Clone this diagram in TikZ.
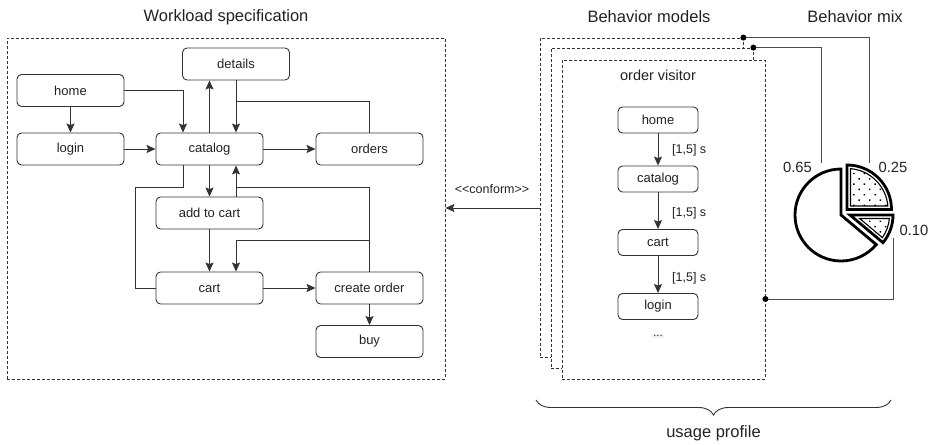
\documentclass[tikz,border=0pt]{standalone}
\usepackage{fontspec}
\setmainfont{Liberation Sans}
\usetikzlibrary{arrows.meta,calc,patterns.meta,decorations.pathreplacing}
\definecolor{ln}{HTML}{333333}
\definecolor{tx}{HTML}{222222}
\begin{document}
\begin{tikzpicture}[x=1pt,y=1pt,
  box/.style={draw=ln, line width=0.9pt, rounded corners=4.5pt, minimum width=107pt, minimum height=32pt, inner sep=0pt, font=\fontsize{13}{15}\selectfont, text=tx},
  sbox/.style={box, minimum width=80pt, minimum height=26pt},
  con/.style={draw=ln, line width=0.9pt},
  arr/.style={con, -{Stealth[length=9pt,width=8pt,inset=1.5pt]}},
  dbox/.style={draw=ln, line width=0.8pt, dash pattern=on 3pt off 2pt, fill=white, inner sep=0pt},
  ttl/.style={font=\fontsize{16.5}{19}\selectfont, text=tx, inner sep=0pt},
  lbl/.style={font=\fontsize{12.5}{14}\selectfont, text=tx, inner sep=0pt},
  plbl/.style={font=\fontsize{14.8}{16}\selectfont, text=tx, inner sep=0pt},
  dotc/.style={fill=black},
  slice/.style={line width=2.8pt, fill=white, line join=miter},
  islice/.style={line width=1.1pt, pattern={Dots[distance=7.5pt, angle=45, radius=1pt]}, line join=miter},
]
\useasboundingbox (0,0) rectangle (933,-444);

% ---------- Workload specification ----------
\node[ttl] (t1) at (226,-17) {Workload specification};
\node[dbox, minimum width=438pt, minimum height=341pt] (W) at (226,-208.5) {};

\node[box] (Lhome) at (70.5,-90.5) {home};
\node[box] (Llogin) at (70.5,-149) {login};
\node[box] (Lcat) at (209.5,-149) {catalog};
\node[box] (Ldet) at (236,-64) {details};
\node[box] (Lord) at (369.5,-149) {orders};
\node[box] (Ladd) at (209.5,-213) {add to cart};
\node[box] (Lcart) at (209.5,-288) {cart};
\node[box] (Lcre) at (369.5,-288) {create order};
\node[box] (Lbuy) at (369.5,-341.5) {buy};

\draw[arr, line width=1.4pt] (Lhome) -- (Llogin);
\draw[arr] (Lhome.east) -| ($(Lcat.north)+(-26.5,0)$);
\draw[arr] (Llogin) -- (Lcat);
\draw[arr] (Lcat.north) -- (Lcat.north |- Ldet.south);
\draw[arr] (Ldet.south) -- (Ldet.south |- Lcat.north);
\coordinate (j1) at (236,-101);
\draw[con] (Lord.north) |- (j1);
\draw[arr] (Lcat) -- (Lord);
\coordinate (j2) at (135,-187);
\draw[con] ($(Lcat.south)+(-26.5,0)$) |- (j2) |- (Lcart.west);
\draw[arr] (Lcat.south) -- (Ladd.north);
\draw[arr] ($(Ladd.north)+(26.5,0)$) -- ($(Lcat.south)+(26.5,0)$);
\coordinate (j3) at (236,-187);
\draw[con] (Lcre.north) |- (j3);
\draw[arr] (Ladd) -- (Lcart);
\coordinate (j4) at (369.5,-240);
\draw[arr] (j4) -| ($(Lcart.north)+(26.5,0)$);
\draw[arr] (Lcart) -- (Lcre);
\draw[arr, line width=1.4pt] (Lcre) -- (Lbuy);

% ---------- Behavior models ----------
\node[ttl] (t2) at (649,-17) {Behavior models};
\node[ttl] (t3) at (855,-17) {Behavior mix};

\node[dbox, minimum width=203pt, minimum height=319pt] (B1) at (641.5,-197.5) {};
\node[dbox, minimum width=202pt, minimum height=320pt] (B2) at (652,-208) {};
\node[dbox, minimum width=203pt, minimum height=319pt] (B3) at (663.5,-219.5) {};

\coordinate (cf) at (540,-208);
\draw[arr, line width=0.8pt] (cf) -- (cf -| W.east);
\node[lbl] (conf) at (492,-189) {<{}<conform>{}>};

\node[font=\fontsize{14.5}{16}\selectfont, text=tx, inner sep=0pt] (ov) at (658,-75) {order visitor};
\node[sbox] (Rhome) at (658,-120) {home};
\node[sbox] (Rcat) at (658,-179) {catalog};
\node[sbox] (Rcart) at (658,-242.5) {cart};
\node[sbox] (Rlogin) at (658,-306.5) {login};
\node[fill=black!6, inner sep=1.5pt, font=\fontsize{11}{12}\selectfont, text=tx] (Rdots) at (658,-336) {...};

\draw[arr] (Rhome) -- (Rcat);
\node[lbl, anchor=west] (e1) at (672,-150) {[1,5] s};
\draw[arr] (Rcat) -- (Rcart);
\node[lbl, anchor=west] (e2) at (672,-213) {[1,5] s};
\draw[arr] (Rcart) -- (Rlogin);
\node[lbl, anchor=west] (e3) at (672,-278) {[1,5] s};

% ---------- Behavior mix ----------
\coordinate (p65) at (821,-163);
\coordinate (p25) at (869,-163);
\coordinate (p10) at (893,-238);
\coordinate (d3) at (B3.east |- 0,-299);
\draw[con, draw=black!70] (B1.north east) -| (p25);
\draw[con, draw=black!70] (B2.north east) -| (p65);
\draw[con, draw=black!70] (d3) -| (p10);
\fill[dotc] (B1.north east) circle (3pt);
\fill[dotc] (B2.north east) circle (3pt);
\fill[dotc] (d3) circle (3pt);

\node[plbl] (l65) at (797.5,-167) {0.65};
\node[plbl] (l25) at (893,-167) {0.25};
\node[plbl] (l10) at (914,-230) {0.10};

% pie slices
\coordinate (c65) at (841,-215);
\coordinate (c25) at (847,-209.5);
\coordinate (c10) at (850,-215);
\draw[slice] (c65) -- ++(90:46) arc[start angle=90, end angle=320, radius=46] -- cycle;
\draw[slice] (c25) -- ++(0:44.5) arc[start angle=0, end angle=90, radius=44.5] -- cycle;
\draw[islice] ($(c25)+(3.5,3.5)$) -- ($(c25)+(4.9:41)$) arc[start angle=4.9, end angle=85.1, radius=41] -- cycle;
\draw[slice] (c10) -- ++(0:43) arc[start angle=0, end angle=-40, radius=43] -- cycle;
\draw[islice] ($(c10)+(-20:10.2)$) -- ($(c10)+(-5.08:39.5)$) arc[start angle=-5.08, end angle=-34.92, radius=39.5] -- cycle;

% ---------- usage profile ----------
\draw[con, line width=0.9pt, decorate, decoration={brace, amplitude=15pt}] (891,-400) -- (536,-400);
\node[ttl] (up) at (713.5,-433) {usage profile};
\end{tikzpicture}
\end{document}
